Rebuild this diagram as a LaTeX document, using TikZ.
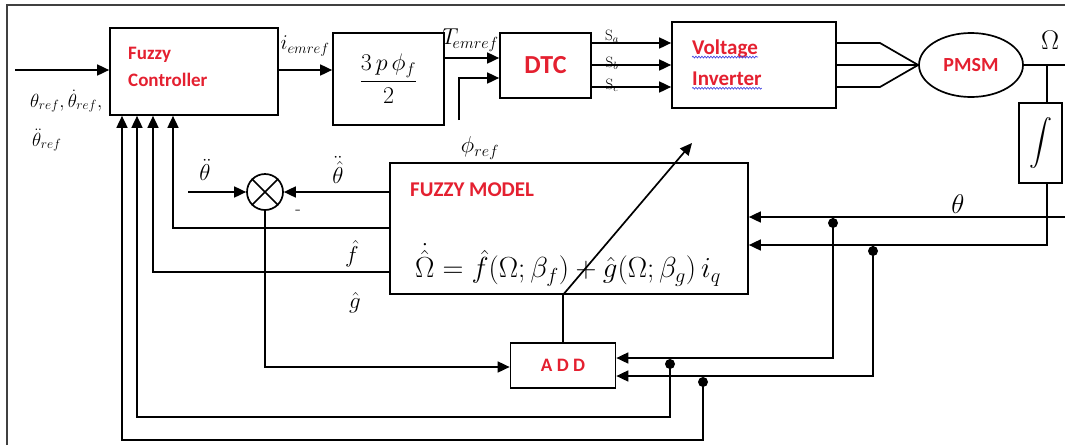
\RequirePackage{fix-cm}
\documentclass[tikz,border=0pt]{standalone}
\usepackage{fontspec}
\newfontfamily\rfont{Carlito}
\usetikzlibrary{arrows.meta,decorations.pathmorphing,shapes.geometric}
\definecolor{mred}{RGB}{228,32,48}
\definecolor{wavy}{RGB}{70,70,225}
\tikzset{
  box/.style={draw, line width=1.7pt, inner sep=0pt, rectangle},
  ln/.style={line width=1.7pt},
  arr/.style={ln, -{Triangle[length=12pt,width=11pt]}},
  jdot/.style={circle, fill, inner sep=0pt, minimum size=10pt},
  rtxt/.style={text=mred, font=\rfont\bfseries\fontsize{19}{23}\selectfont, align=left, inner sep=0pt},
  mlab/.style={inner sep=0pt, font=\fontsize{20}{24}\selectfont},
  squig/.style={draw=wavy, line width=0.7pt, decorate, decoration={snake, segment length=3pt, amplitude=0.9pt}}
}
\begin{document}
\begin{tikzpicture}[x=1pt,y=-1pt]
\useasboundingbox (0,0) rectangle (1065,445);
% frame
\draw[line width=1.5pt, black!75] (7,445) -- (7,5) -- (1065,5);

% blocks
\node[box, minimum width=168pt, minimum height=87pt] (fc) at (194,71.5) {};
\node[rtxt, anchor=west] (fctxt) at (128,67) {Fuzzy\\[4pt]Controller};
\node[box, minimum width=111pt, minimum height=92pt] (gain) at (388.5,79)
  {\fontsize{24}{28}\selectfont$\displaystyle\frac{3\,p\,\phi_f}{2}$};
\node[box, minimum width=91pt, minimum height=65pt, text=mred, font=\rfont\bfseries\fontsize{26}{30}\selectfont] (dtc) at (545.5,65.5) {DTC};
\node[box, minimum width=164pt, minimum height=86pt] (vi) at (754,65) {};
\node[rtxt, anchor=west, font=\rfont\bfseries\fontsize{21}{25}\selectfont] (vitxt1) at (692,49) {Voltage};
\node[rtxt, anchor=west, font=\rfont\bfseries\fontsize{21}{25}\selectfont] (vitxt2) at (692,79) {Inverter};
\path[squig] ([yshift=-2.5pt]vitxt1.base west) -- ([yshift=-2.5pt]vitxt1.base east);
\path[squig] ([yshift=-2.5pt]vitxt2.base west) -- ([yshift=-2.5pt]vitxt2.base east);
\node[draw, ellipse, line width=1.7pt, minimum width=104pt, minimum height=64pt, inner sep=0pt,
  text=mred, font=\rfont\bfseries\fontsize{20}{24}\selectfont] (pmsm) at (971,65) {PMSM};
\node[box, minimum width=43pt, minimum height=80pt] (integ) at (1040.5,143)
  {\scalebox{2.3}{$\displaystyle\int$}};
\node[box, minimum width=358pt, minimum height=131pt] (fm) at (569,228.5) {};
\node[rtxt, anchor=west, font=\rfont\bfseries\fontsize{21}{25}\selectfont] (fmtxt) at (410,190) {FUZZY MODEL};
\node[inner sep=0pt, font=\fontsize{29}{33}\selectfont] (eq) at (568,265)
  {$\dot{\hat{\Omega}} = \hat f(\Omega;\beta_f) + \hat g(\Omega;\beta_g)\,i_q$};
\node[box, minimum width=105pt, minimum height=45pt, text=mred, font=\rfont\bfseries\fontsize{19}{23}\selectfont] (add) at (563,365.5) {A D D};
\node[draw, circle, line width=1.7pt, minimum size=36pt, inner sep=0pt] (sum) at (265,192) {};
\draw[ln] (sum.45) -- (sum.225) (sum.135) -- (sum.315);

% helper coordinates
\coordinate (in0) at (15,70);
\coordinate (yT) at (0,58);
\coordinate (phis) at (459,120);
\coordinate (yphi) at (0,78);
\coordinate (ya) at (0,43);
\coordinate (yb) at (0,65);
\coordinate (yc) at (0,87);
\coordinate (bend1) at (880,43);
\coordinate (bend3) at (880,87);
\coordinate (omend) at (1065,65);
\coordinate (jo) at (1047,65);
\coordinate (ibend) at (1047,245);
\coordinate (thst) at (1065,217);
\coordinate (ysum) at (0,192);
\coordinate (lin) at (188,192);
\coordinate (y228) at (0,228);
\coordinate (y272) at (0,272);
\coordinate (x173) at (173,0);
\coordinate (x153) at (153,0);
\coordinate (x137) at (137,0);
\coordinate (x122) at (122,0);
\coordinate (diagend) at (692,143);
\coordinate (y358) at (0,358);
\coordinate (y376) at (0,376);
\coordinate (ysumo) at (0,367);

% top chain
\draw[arr] (in0) -- (fc.west |- in0);
\draw[arr] (fc.east |- in0) -- (gain.west |- in0);
\draw[arr] (gain.east |- yT) -- (dtc.west |- yT);
\draw[arr] (phis) |- (dtc.west |- yphi);
\draw[arr] (dtc.east |- ya) -- (vi.west |- ya);
\draw[arr] (dtc.east |- yb) -- (vi.west |- yb);
\draw[arr] (dtc.east |- yc) -- (vi.west |- yc);
\draw[ln] (vi.east |- ya) -- (bend1) -- (pmsm.west);
\draw[ln] (vi.east |- yb) -- (pmsm.west);
\draw[ln] (vi.east |- yc) -- (bend3) -- (pmsm.west);
\draw[ln] (pmsm.east) -- (omend);
\draw[ln] (jo) -- (jo |- integ.north);
\draw[arr] (jo |- integ.south) -- (ibend) -- (fm.east |- ibend);
\draw[arr] (thst) -- (fm.east |- thst);

% junction dots and ADD feedback
\node[jdot] (d1) at (833,223) {};
\node[jdot] (d2) at (873,251) {};
\node[jdot] (d3) at (670,364) {};
\node[jdot] (d4) at (703,382) {};
\draw[arr] (d1.north |- thst) -- (d1.center) -- (833,358) -- (add.east |- y358);
\draw[arr] (d2.north |- ibend) -- (d2.center) -- (873,376) -- (add.east |- y376);
\draw[arr] (d3.center) -- (670,417) -| (fc.south -| x137);
\draw[arr] (d4.center) -- (703,440) -| (fc.south -| x122);

% fuzzy model outputs
\draw[arr] (fm.west |- ysum) -- (sum.east);
\draw[arr] (lin) -- (sum.west);
\draw[arr] (fm.west |- y228) -| (fc.south -| x173);
\draw[arr] (fm.west |- y272) -| (fc.south -| x153);
\draw[arr] (sum.south) |- (add.west |- ysumo);
\draw[ln] (add.north) -- (add.north |- fm.south);
\draw[arr] (add.north |- fm.south) -- (diagend);

% labels
\node[mlab, anchor=west, font=\fontsize{19}{22}\selectfont] (lref1) at (30,101) {$\theta_{ref},\dot\theta_{ref},$};
\node[mlab, anchor=west, font=\fontsize{19}{22}\selectfont] (lref2) at (32,140) {$\ddot\theta_{ref}$};
\node[mlab, font=\fontsize{21}{24}\selectfont] (liem) at (305,46) {$i_{emref}$};
\node[mlab, anchor=west, font=\fontsize{23}{26}\selectfont] (lT) at (442,40) {$T_{\!emref}$};
\node[mlab, font=\fontsize{23}{26}\selectfont] (lphi) at (480,148) {$\phi_{ref}$};
\node[mlab, font=\fontsize{15}{17}\selectfont] (lsa) at (612,36) {$\mathrm{S}_a$};
\node[mlab, font=\fontsize{15}{17}\selectfont] (lsb) at (612,63) {$\mathrm{S}_b$};
\node[mlab, font=\fontsize{15}{17}\selectfont] (lsc) at (612,85) {$\mathrm{S}_c$};
\node[mlab, font=\fontsize{27}{30}\selectfont] (lom) at (1050,40) {$\Omega$};
\node[mlab, font=\fontsize{27}{30}\selectfont] (lth) at (958,204) {$\theta$};
\node[mlab, font=\fontsize{23}{26}\selectfont] (lthdd) at (205,170) {$\ddot\theta$};
\node[mlab, font=\fontsize{23}{26}\selectfont] (lthh) at (338,170) {$\ddot{\hat\theta}$};
\node[mlab, font=\fontsize{18}{20}\selectfont] (lminus) at (298,212) {-};
\node[mlab, font=\fontsize{23}{26}\selectfont] (lf) at (352,254) {$\hat f$};
\node[mlab, font=\fontsize{23}{26}\selectfont] (lg) at (355,303) {$\hat g$};
\end{tikzpicture}
\end{document}
